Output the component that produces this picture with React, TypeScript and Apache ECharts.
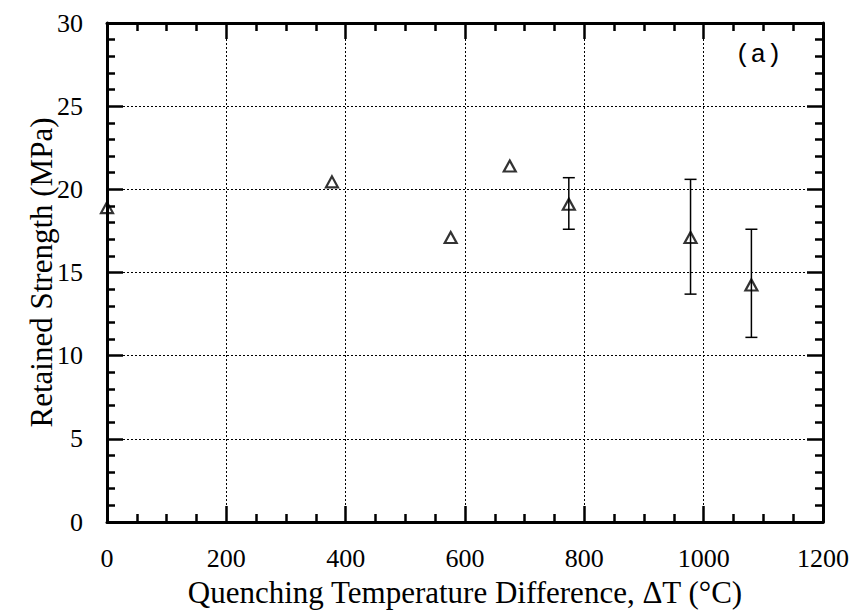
import React, { useEffect, useRef } from "react";
import * as echarts from "echarts";

const pointX = [0, 377, 576, 675, 774, 978, 1080];
const pointY = [18.9, 20.45, 17.1, 21.4, 19.1, 17.1, 14.25];

const errX = [774, 978, 1080];
const errLow = [17.6, 13.7, 11.1];
const errHigh = [20.7, 20.6, 17.6];

const xTitle = "Quenching Temperature Difference, \u0394T (\u00B0C)";
const yTitle = "Retained Strength (MPa)";
const panelLabel = "(a)";

const SERIF = "'Liberation Serif', 'Times New Roman', serif";

export default function App() {
  const ref = useRef<HTMLDivElement>(null);

  useEffect(() => {
    if (!ref.current) return;
    const chart = echarts.init(ref.current, null, { renderer: "svg" });

    const axisLine = { show: true, onZero: false, lineStyle: { color: "#000", width: 3 } };
    const axisTick = { show: true, inside: true, length: 16, lineStyle: { color: "#000", width: 2.5 } };
    const minorTick = (n: number) => ({ show: true, splitNumber: n, length: 8, lineStyle: { color: "#000", width: 2.5 } });
    const splitLine = { show: true, lineStyle: { color: "#000", width: 1, type: [2, 2] as any } };
    const fmt = (v: number) => String(v);

    const scatterData = pointX.map((x, i) => [x, pointY[i]]);
    const errData = errX.map((x, i) => [x, errLow[i], errHigh[i]]);

    chart.setOption({
      animation: false,
      backgroundColor: "#fff",
      grid: { left: 107, right: 32, top: 23, bottom: 93, containLabel: false },
      xAxis: [
        {
          type: "value",
          min: 0,
          max: 1200,
          interval: 200,
          position: "bottom",
          axisLine,
          axisTick,
          minorTick: minorTick(4),
          splitLine,
          axisLabel: { show: true, margin: 23, color: "#000", fontFamily: SERIF, fontSize: 26, formatter: fmt },
          name: xTitle,
          nameLocation: "middle",
          nameGap: 55,
          nameMoveOverlap: false,
          nameTextStyle: { color: "#000", fontFamily: SERIF, fontSize: 31 },
        },
        {
          type: "value",
          min: 0,
          max: 1200,
          interval: 200,
          position: "top",
          axisLine,
          axisTick,
          minorTick: minorTick(4),
          splitLine: { show: false },
          axisLabel: { show: false },
        },
      ],
      yAxis: [
        {
          type: "value",
          min: 0,
          max: 30,
          interval: 5,
          position: "left",
          axisLine,
          axisTick,
          minorTick: minorTick(5),
          splitLine,
          axisLabel: { show: true, margin: 24, color: "#000", fontFamily: SERIF, fontSize: 26, formatter: fmt },
          name: yTitle,
          nameLocation: "middle",
          nameGap: 50,
          nameMoveOverlap: false,
          nameTextStyle: { color: "#000", fontFamily: SERIF, fontSize: 31 },
        },
        {
          type: "value",
          min: 0,
          max: 30,
          interval: 5,
          position: "right",
          axisLine,
          axisTick,
          minorTick: minorTick(5),
          splitLine: { show: false },
          axisLabel: { show: false },
        },
      ],
      graphic: [
        {
          type: "text",
          left: 735,
          top: 42,
          style: {
            text: panelLabel,
            fill: "#000",
            font: "26px 'Liberation Mono', 'Courier New', monospace",
          },
        },
      ],
      series: [
        {
          type: "custom",
          xAxisIndex: 0,
          yAxisIndex: 0,
          data: errData,
          z: 3,
          renderItem: (params: any, api: any) => {
            const x = api.value(0);
            const lo = api.value(1);
            const hi = api.value(2);
            const top = api.coord([x, hi]);
            const bot = api.coord([x, lo]);
            const w = 6;
            const style = { stroke: "#000", lineWidth: 1.5 };
            return {
              type: "group",
              children: [
                { type: "line", shape: { x1: top[0], y1: top[1], x2: bot[0], y2: bot[1] }, style },
                { type: "line", shape: { x1: top[0] - w, y1: top[1], x2: top[0] + w, y2: top[1] }, style },
                { type: "line", shape: { x1: bot[0] - w, y1: bot[1], x2: bot[0] + w, y2: bot[1] }, style },
              ],
            };
          },
        },
        {
          type: "scatter",
          xAxisIndex: 0,
          yAxisIndex: 0,
          data: scatterData,
          symbol: "triangle",
          symbolSize: [12, 11],
          z: 4,
          clip: false,
          itemStyle: { color: "rgba(0,0,0,0)", borderColor: "#000", borderWidth: 2.2 },
        },
      ],
    });

    return () => chart.dispose();
  }, []);

  return (
    <div
      ref={ref}
      style={{ position: "absolute", left: 0, top: 0, width: 855, height: 615, background: "#fff" }}
    />
  );
}
